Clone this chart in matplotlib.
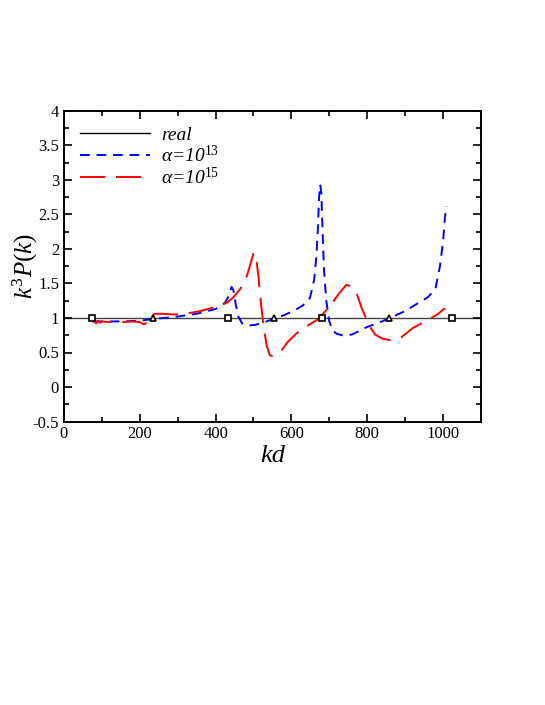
import matplotlib
matplotlib.use("Agg")
import matplotlib.pyplot as plt
from matplotlib.ticker import MultipleLocator

plt.rcParams['font.family'] = ['Liberation Serif', 'DejaVu Serif']
plt.rcParams['mathtext.fontset'] = 'custom'
plt.rcParams['mathtext.rm'] = 'Liberation Serif'
plt.rcParams['mathtext.it'] = 'Liberation Serif:italic'

# alpha = 1e13 (blue, short dashes)
kd_13 = [77, 100, 150, 200, 245, 300, 350, 400, 425, 435, 442, 447, 453, 460,
         470, 485, 505, 530, 555, 580, 605, 630, 649, 660, 666, 670, 673, 676,
         679, 682, 686, 692, 700, 708, 720, 737, 760, 800, 830, 860, 900, 930,
         960, 980, 992, 1000, 1005, 1009]
p_13 = [0.95, 0.95, 0.95, 0.96, 0.99, 1.02, 1.06, 1.13, 1.22, 1.32, 1.45, 1.40,
        1.20, 1.02, 0.92, 0.89, 0.90, 0.94, 0.99, 1.04, 1.10, 1.18, 1.29, 1.55,
        1.90, 2.30, 2.75, 2.93, 2.80, 2.30, 1.70, 1.25, 0.95, 0.82, 0.77, 0.745,
        0.76, 0.87, 0.93, 1.00, 1.10, 1.20, 1.30, 1.42, 1.75, 2.10, 2.45, 2.62]

# alpha = 1e15 (red, long dashes)
kd_15 = [77, 80, 85, 90, 95, 100, 120, 140, 160, 180, 200, 210, 220, 228, 240,
         260, 290, 320, 360, 400, 430, 447, 465, 482, 493, 500, 506, 513, 520,
         527, 535, 543, 550, 570, 590, 614, 640, 670, 702, 725, 745, 760, 772,
         785, 798, 810, 821, 840, 860, 890, 922, 960, 985, 1005]
p_15 = [0.93, 0.97, 0.92, 0.96, 0.93, 0.95, 0.94, 0.95, 0.94, 0.95, 0.94, 0.91,
        0.93, 1.02, 1.06, 1.06, 1.05, 1.06, 1.10, 1.16, 1.22, 1.30, 1.42, 1.60,
        1.80, 1.94, 1.92, 1.60, 1.20, 0.85, 0.60, 0.46, 0.45, 0.50, 0.65, 0.78,
        0.88, 0.98, 1.17, 1.35, 1.48, 1.45, 1.36, 1.15, 0.98, 0.85, 0.76, 0.70,
        0.68, 0.72, 0.86, 0.97, 1.05, 1.14]

# markers on the real line
sq_x = [75, 434, 681, 1025]
tri_x = [234, 555, 858]

fig = plt.figure(figsize=(5.45, 7.05), dpi=100)
ax = fig.add_axes([0.1174, 0.402, 0.765, 0.441])

ax.axhline(1.0, color='#444444', lw=1.0, label='real', zorder=1)
ax.plot(kd_13, p_13, color='#0000ff', lw=1.4, dashes=(5, 3.5),
        label=r'$\alpha$=10$^{\mathit{13}}$', zorder=2)
ax.plot(kd_15, p_15, color='#ff0000', lw=1.4, dashes=(13, 5.5),
        label=r'$\alpha$=10$^{\mathit{15}}$', zorder=3)
ax.plot(sq_x, [1] * len(sq_x), ls='none', marker='s', ms=5, mfc='white',
        mec='black', mew=1.2, zorder=4)
ax.plot(tri_x, [1] * len(tri_x), ls='none', marker='^', ms=5, mfc='white',
        mec='black', mew=1.2, zorder=4)

ax.set_xlim(0, 1100)
ax.set_ylim(-0.5, 4)
ax.xaxis.set_major_locator(MultipleLocator(200))
ax.xaxis.set_minor_locator(MultipleLocator(100))
ax.yaxis.set_minor_locator(MultipleLocator(0.25))
ax.set_yticks([-0.5, 0, 0.5, 1, 1.5, 2, 2.5, 3, 3.5, 4])
ax.set_yticklabels(['-0.5', '0', '0.5', '1', '1.5', '2', '2.5', '3', '3.5', '4'])
ax.tick_params(which='both', direction='in', top=True, right=True, labelsize=12)
ax.tick_params(which='major', length=6, width=1.2)
ax.tick_params(which='minor', length=3.5, width=1.2)
for s in ax.spines.values():
    s.set_linewidth(1.4)

ax.set_xlabel('kd', fontsize=19, style='italic', labelpad=2)
ax.set_ylabel(r'$k^3P(k)$', fontsize=18)
ax.yaxis.set_label_coords(-0.058, 0.5)

leg = ax.legend(loc='upper left', frameon=False, fontsize=14, handlelength=3.6,
                labelspacing=0.05, handletextpad=0.6, borderaxespad=0.4)
for t in leg.get_texts():
    t.set_style('italic')
leg.get_lines()[0].set_color('black')

fig.savefig('out.png', dpi=100)
